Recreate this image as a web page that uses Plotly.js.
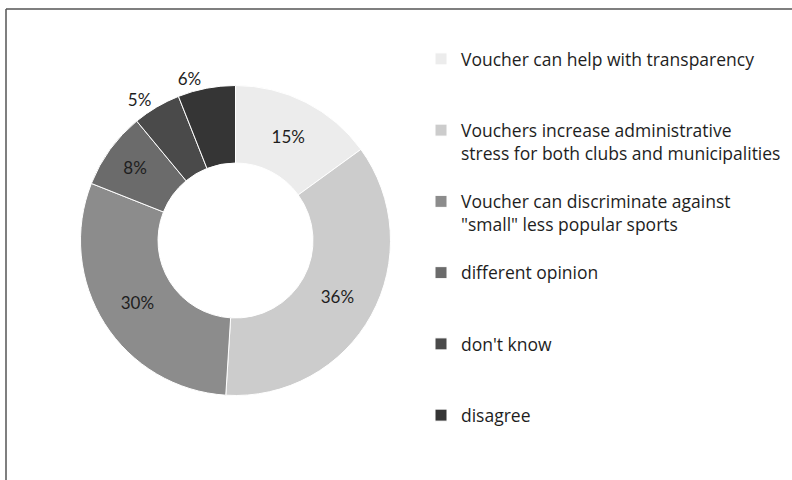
<!DOCTYPE html>
<html>
<head>
<meta charset="utf-8">
<script src="https://cdn.plot.ly/plotly-3.0.1.min.js"></script>
<style>html,body{margin:0;padding:0;background:#fff;}#chart{width:792px;height:480px;}</style>
</head>
<body>
<div id="chart"></div>
<script>
const categories = [
  "Voucher can help with transparency",
  "Vouchers increase administrative<br>stress for both clubs and municipalities",
  "Voucher can discriminate against<br>\"small\" less popular sports",
  "different opinion",
  "don't know",
  "disagree"
];
const values = [15, 36, 30, 8, 5, 6];
const sliceColors = ["#ececec", "#cccccc", "#8c8c8c", "#6b6b6b", "#4a4a4a", "#353535"];
const textPositions = ["inside", "inside", "inside", "inside", "outside", "outside"];

// pad legend labels to three lines so entries are evenly spaced
const legendLabels = categories.map(c => {
  const n = c.split("<br>").length;
  let s = c;
  for (let i = n; i < 3; i++) s += "<br>&nbsp;";
  return s;
});

const PIE_FONT = "Lato, 'Open Sans', sans-serif";
const LEG_FONT = "'Open Sans', sans-serif";

const trace = {
  type: "pie",
  labels: legendLabels,
  values: values,
  hole: 0.5,
  sort: false,
  direction: "clockwise",
  rotation: 0,
  marker: { colors: sliceColors, line: { color: "#ffffff", width: 1 } },
  textposition: textPositions,
  texttemplate: "%{value}%",
  insidetextorientation: "horizontal",
  textfont: { family: PIE_FONT, size: 17, color: "#1e1e1e" },
  outsidetextfont: { family: PIE_FONT, size: 17, color: "#1e1e1e" },
  domain: { x: [80.5 / 792, 390.5 / 792], y: [1 - 395.5 / 480, 1 - 85.5 / 480] },
  hoverinfo: "label+percent"
};

const layout = {
  width: 792,
  height: 480,
  margin: { l: 0, r: 0, t: 0, b: 0 },
  paper_bgcolor: "#ffffff",
  showlegend: true,
  legend: {
    x: 421 / 792,
    xanchor: "left",
    y: 1 - 41 / 480,
    yanchor: "top",
    valign: "top",
    font: { family: LEG_FONT, size: 17.5, color: "#1e1e1e" },
    bgcolor: "rgba(0,0,0,0)"
  },
  shapes: [
    { type: "line", xref: "paper", yref: "paper", x0: 6 / 792, x1: 1, y0: 1 - 9 / 480, y1: 1 - 9 / 480, line: { color: "#555555", width: 1.5 } },
    { type: "line", xref: "paper", yref: "paper", x0: 6 / 792, x1: 6 / 792, y0: 0, y1: 1 - 9 / 480, line: { color: "#555555", width: 1.5 } }
  ]
};

Plotly.newPlot("chart", [trace], layout, { displayModeBar: false, staticPlot: true });
</script>
</body>
</html>
